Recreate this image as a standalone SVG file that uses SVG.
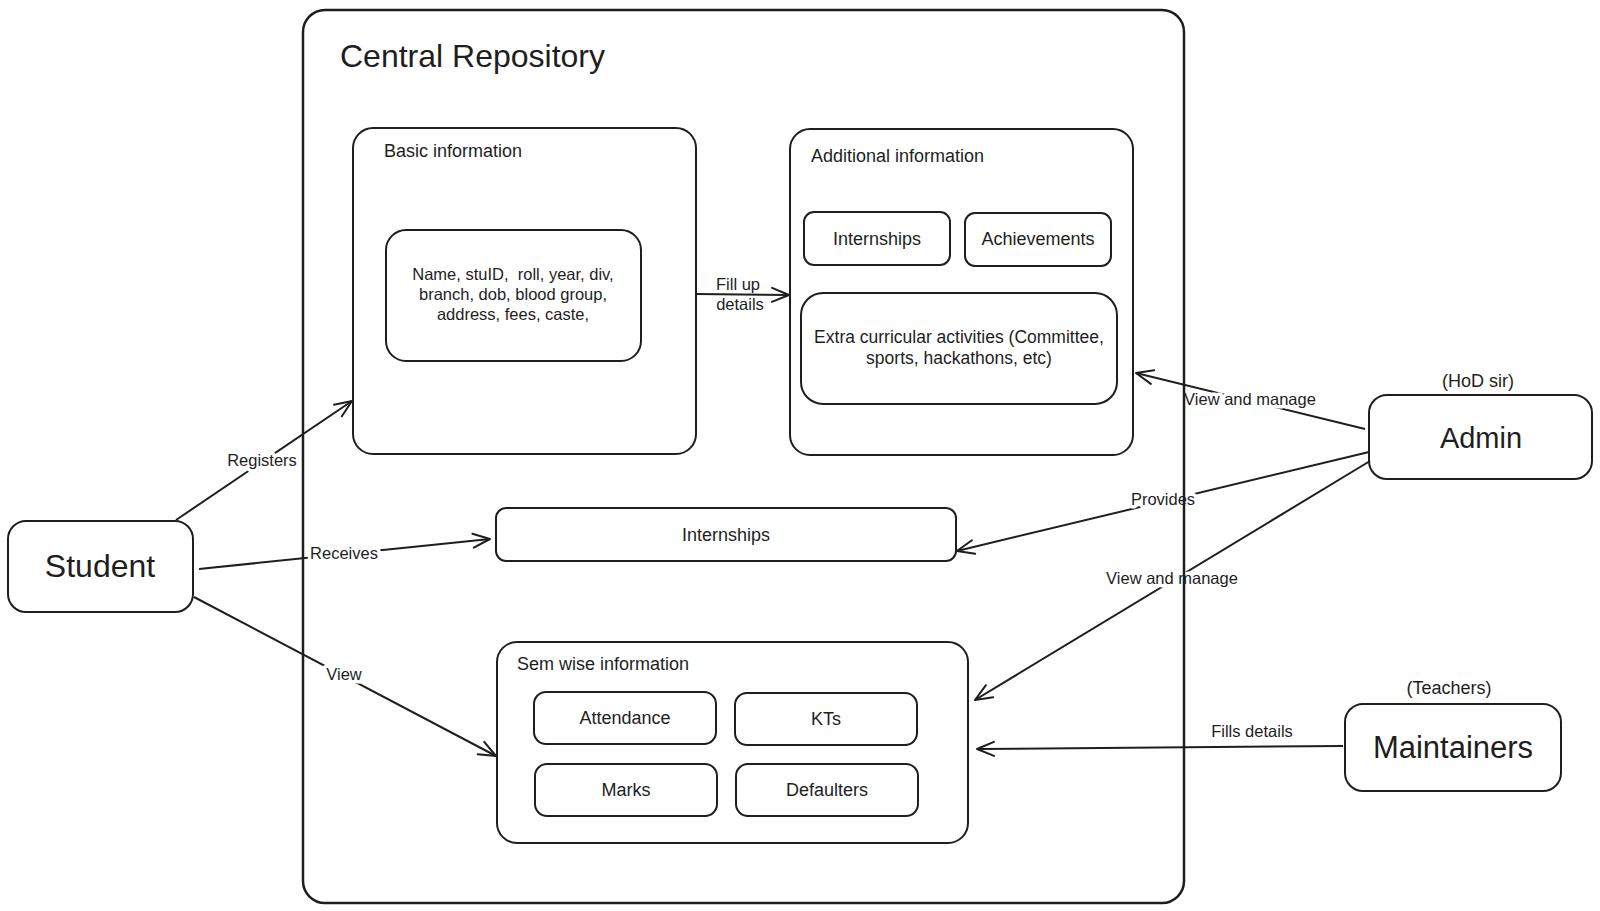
<svg xmlns="http://www.w3.org/2000/svg" width="1600" height="911" viewBox="0 0 1600 911">
<style>
.box{fill:none;stroke:#1e1e1e;stroke-width:2;}
.outer{fill:none;stroke:#1e1e1e;stroke-width:2.5;}
.t{font-family:"Liberation Sans","Open Sans",sans-serif;fill:#1e1e1e;}
.s{font-size:18px;}
.m{font-size:16.5px;}
.c{text-anchor:middle;}
.conn{fill:none;stroke:#1e1e1e;stroke-width:2;marker-end:url(#arr);}
.lbl{font-family:"Liberation Sans","Open Sans",sans-serif;font-size:16.5px;fill:#1e1e1e;text-anchor:middle;paint-order:stroke;stroke:#fff;stroke-width:7px;stroke-linejoin:round;}
</style>
<defs>
<marker id="arr" markerUnits="userSpaceOnUse" markerWidth="22" markerHeight="22" viewBox="0 0 22 22" refX="20" refY="11" orient="auto">
<path d="M3,4 L20,11 L3,18" fill="none" stroke="#1e1e1e" stroke-width="2" stroke-linecap="round" stroke-linejoin="round"/>
</marker>
</defs>
<rect x="0" y="0" width="1600" height="911" fill="#ffffff"/>

<g id="connectors">
<path class="conn" d="M176,520 L352,401"/>
<text class="lbl" x="262" y="466">Registers</text>
<path class="conn" d="M199,569 L490,539"/>
<text class="lbl" x="344" y="559">Receives</text>
<path class="conn" d="M194,597 L496,756"/>
<text class="lbl" x="344" y="680">View</text>
<path class="conn" d="M696,294 L789,295"/>
<text class="t m c" x="738" y="290">Fill up</text>
<text class="t m c" x="740" y="310">details</text>
<path class="conn" d="M1365,429 L1136,373"/>
<text class="lbl" x="1250" y="405">View and manage</text>
<path class="conn" d="M1369,452 L957,551"/>
<text class="lbl" x="1163" y="505">Provides</text>
<path class="conn" d="M1370,461 L975,700"/>
<text class="lbl" x="1172" y="584">View and manage</text>
<path class="conn" d="M1343,746 L977,749"/>
<text class="t m c" x="1252" y="737">Fills details</text>
</g>

<g id="central-repository">
<rect class="outer" x="303" y="10" width="881" height="893" rx="22"/>
<text class="t" x="340" y="67" font-size="32">Central Repository</text>
</g>

<g id="basic-information">
<rect class="box" x="353" y="128" width="343" height="326" rx="20"/>
<text class="t s" x="384" y="157">Basic information</text>
</g>
<g id="basic-fields">
<rect class="box" x="386" y="230" width="255" height="131" rx="20"/>
<text class="t m c" x="513" y="280" xml:space="preserve">Name, stuID,  roll, year, div,</text>
<text class="t m c" x="513" y="300">branch, dob, blood group,</text>
<text class="t m c" x="513" y="320">address, fees, caste,</text>
</g>

<g id="additional-information">
<rect class="box" x="790" y="129" width="343" height="326" rx="20"/>
<text class="t s" x="811" y="162">Additional information</text>
</g>
<g id="add-internships">
<rect class="box" x="804" y="212" width="146" height="53" rx="10"/>
<text class="t s c" x="877" y="245">Internships</text>
</g>
<g id="achievements">
<rect class="box" x="965" y="213" width="146" height="53" rx="10"/>
<text class="t s c" x="1038" y="245">Achievements</text>
</g>
<g id="extra-curricular">
<rect class="box" x="801" y="293" width="316" height="111" rx="22"/>
<text class="t c" x="959" y="343" font-size="17.5">Extra curricular activities (Committee,</text>
<text class="t c" x="959" y="364" font-size="17.5">sports, hackathons, etc)</text>
</g>

<g id="internships">
<rect class="box" x="496" y="508" width="460" height="53" rx="10"/>
<text class="t s c" x="726" y="541">Internships</text>
</g>

<g id="sem-wise-information">
<rect class="box" x="497" y="642" width="471" height="201" rx="20"/>
<text class="t s" x="517" y="670">Sem wise information</text>
</g>
<g id="attendance">
<rect class="box" x="534" y="692" width="182" height="52" rx="12"/>
<text class="t s c" x="625" y="724">Attendance</text>
</g>
<g id="kts">
<rect class="box" x="735" y="693" width="182" height="52" rx="12"/>
<text class="t s c" x="826" y="725">KTs</text>
</g>
<g id="marks">
<rect class="box" x="535" y="764" width="182" height="52" rx="12"/>
<text class="t s c" x="626" y="796">Marks</text>
</g>
<g id="defaulters">
<rect class="box" x="736" y="764" width="182" height="52" rx="12"/>
<text class="t s c" x="827" y="796">Defaulters</text>
</g>

<g id="student">
<rect class="box" x="8" y="521" width="185" height="91" rx="18"/>
<text class="t c" x="100" y="577" font-size="32">Student</text>
</g>

<g id="admin">
<text class="t s c" x="1478" y="387">(HoD sir)</text>
<rect class="box" x="1369" y="395" width="223" height="84" rx="18"/>
<text class="t c" x="1481" y="448" font-size="29">Admin</text>
</g>

<g id="maintainers">
<text class="t s c" x="1449" y="694">(Teachers)</text>
<rect class="box" x="1345" y="704" width="216" height="87" rx="18"/>
<text class="t c" x="1453" y="758" font-size="31">Maintainers</text>
</g>
</svg>
